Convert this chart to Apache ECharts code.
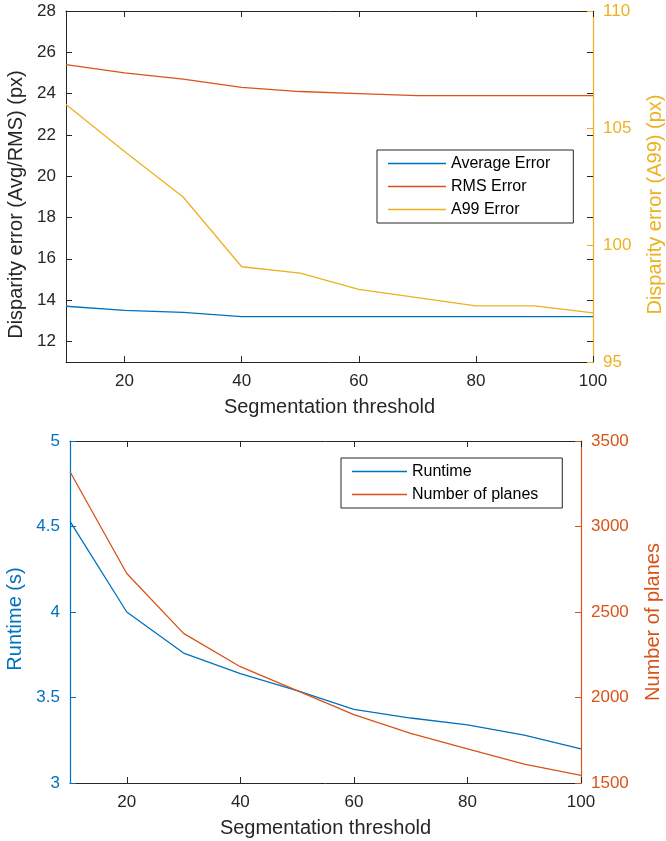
<!DOCTYPE html>
<html>
<head>
<meta charset="utf-8">
<script src="https://cdn.jsdelivr.net/npm/echarts@6/dist/echarts.min.js"></script>
<style>
html,body{margin:0;padding:0;background:#fff;}
#c{width:666px;height:841px;}
</style>
</head>
<body>
<div id="c"></div>
<script>
// ---- data ----
var thresholds = [10, 20, 30, 40, 50, 60, 70, 80, 90, 100];
var avgError = [13.7, 13.5, 13.4, 13.2, 13.2, 13.2, 13.2, 13.2, 13.2, 13.2];
var rmsError = [25.4, 25.0, 24.7, 24.3, 24.1, 24.0, 23.9, 23.9, 23.9, 23.9];
var a99Error = [106.0, 104.0, 102.05, 99.07, 98.8, 98.1, 97.75, 97.4, 97.4, 97.1];
var runtime = [4.53, 4.0, 3.76, 3.64, 3.54, 3.43, 3.38, 3.34, 3.28, 3.20];
var planes = [3320, 2725, 2375, 2180, 2040, 1900, 1790, 1700, 1610, 1545];

var xTickLabels = [20, 40, 60, 80, 100];
var errTicks = [12, 14, 16, 18, 20, 22, 24, 26, 28];

var seriesNamesTop = ['Average Error', 'RMS Error', 'A99 Error'];
var seriesNamesBottom = ['Runtime', 'Number of planes'];
var xTitle = 'Segmentation threshold';
var yTitles = ['Disparity error (Avg/RMS) (px)', 'Disparity error (A99) (px)', 'Runtime (s)', 'Number of planes'];

// ---- style ----
var FONT = 'Liberation Sans, Arial, Helvetica, sans-serif';
var DARK = '#262626';
var BLUE = '#0072BD', ORANGE = '#D95319', YELLOW = '#EDB120';

function pairs(ys) { return thresholds.map(function (x, i) { return [x, ys[i]]; }); }
function plain(v) { return String(v); }

function xAx(gridIndex, pos, withLabels) {
  return {
    type: 'value', gridIndex: gridIndex, position: pos, min: 10, max: 100,
    splitLine: {show: false},
    axisLine: {show: true, lineStyle: {color: DARK, width: 1}},
    axisTick: {show: true, inside: true, length: 6, lineStyle: {color: DARK}, customValues: xTickLabels},
    axisLabel: withLabels ? {show: true, customValues: xTickLabels, color: DARK, fontSize: 17, fontFamily: FONT, margin: 11, formatter: plain} : {show: false},
    name: withLabels ? xTitle : '', nameLocation: 'middle', nameGap: 35,
    nameTextStyle: {color: DARK, fontSize: 20, fontFamily: FONT}
  };
}

var option = {
  backgroundColor: '#fff',
  animation: false,
  grid: [
    {left: 66, top: 11, width: 527, height: 351, containLabel: false, outerBoundsMode: 'none'},
    {left: 70, top: 441, width: 511, height: 342, containLabel: false, outerBoundsMode: 'none'}
  ],
  legend: [
    {
      data: seriesNamesTop, orient: 'vertical', left: 377, top: 150,
      icon: 'rect', itemWidth: 58, itemHeight: 1.5, itemGap: 0,
      padding: [2, 23, 2, 11],
      backgroundColor: '#fff', borderColor: DARK, borderWidth: 1,
      textStyle: {color: '#000', fontSize: 16, fontFamily: FONT, lineHeight: 23, height: 23}
    },
    {
      data: seriesNamesBottom, orient: 'vertical', left: 341, top: 458,
      icon: 'rect', itemWidth: 55, itemHeight: 1.5, itemGap: 0,
      padding: [2, 24, 2, 11],
      backgroundColor: '#fff', borderColor: DARK, borderWidth: 1,
      textStyle: {color: '#000', fontSize: 16, fontFamily: FONT, lineHeight: 23, height: 23}
    }
  ],
  xAxis: [
    xAx(0, 'bottom', true),
    xAx(0, 'top', false),
    xAx(1, 'bottom', true),
    xAx(1, 'top', false)
  ],
  yAxis: [
    { // 0 top left
      type: 'value', gridIndex: 0, position: 'left', min: 11, max: 28,
      splitLine: {show: false},
      axisLine: {show: true, lineStyle: {color: DARK, width: 1}},
      axisTick: {show: true, inside: true, length: 6, lineStyle: {color: DARK}, customValues: errTicks},
      axisLabel: {show: true, customValues: errTicks, color: DARK, fontSize: 17, fontFamily: FONT, margin: 10, formatter: plain},
      name: yTitles[0], nameLocation: 'middle', nameGap: 39,
      nameTextStyle: {color: DARK, fontSize: 20, fontFamily: FONT, padding: [0, 36, 0, 0]}
    },
    { // 1 top right mirrored black ticks
      type: 'value', gridIndex: 0, position: 'right', min: 11, max: 28,
      splitLine: {show: false},
      axisLine: {show: false},
      axisTick: {show: true, inside: true, length: 6, lineStyle: {color: DARK}, customValues: errTicks},
      axisLabel: {show: false}
    },
    { // 2 top right A99
      type: 'value', gridIndex: 0, position: 'right', min: 95, max: 110, interval: 5,
      splitLine: {show: false},
      axisLine: {show: true, lineStyle: {color: YELLOW, width: 1.2}},
      axisTick: {show: true, inside: true, length: 6, lineStyle: {color: YELLOW}},
      axisLabel: {show: true, color: YELLOW, fontSize: 17, fontFamily: FONT, margin: 10, formatter: plain},
      name: yTitles[1], nameLocation: 'middle', nameGap: 52,
      nameTextStyle: {color: YELLOW, fontSize: 20, fontFamily: FONT, padding: [0, 36, 0, 0]}
    },
    { // 3 bottom left runtime
      type: 'value', gridIndex: 1, position: 'left', min: 3, max: 5, interval: 0.5,
      splitLine: {show: false},
      axisLine: {show: true, lineStyle: {color: BLUE, width: 1.2}},
      axisTick: {show: true, inside: true, length: 6, lineStyle: {color: BLUE}},
      axisLabel: {show: true, color: BLUE, fontSize: 17, fontFamily: FONT, margin: 10, formatter: plain},
      name: yTitles[2], nameLocation: 'middle', nameGap: 44,
      nameTextStyle: {color: BLUE, fontSize: 20, fontFamily: FONT, padding: [0, 14, 0, 0]}
    },
    { // 4 bottom right planes
      type: 'value', gridIndex: 1, position: 'right', min: 1500, max: 3500, interval: 500,
      splitLine: {show: false},
      axisLine: {show: true, lineStyle: {color: ORANGE, width: 1.2}},
      axisTick: {show: true, inside: true, length: 6, lineStyle: {color: ORANGE}},
      axisLabel: {show: true, color: ORANGE, fontSize: 17, fontFamily: FONT, margin: 10, formatter: plain},
      name: yTitles[3], nameLocation: 'middle', nameGap: 62,
      nameTextStyle: {color: ORANGE, fontSize: 20, fontFamily: FONT, padding: [0, 20, 0, 0]}
    }
  ],
  series: [
    {name: seriesNamesTop[0], type: 'line', xAxisIndex: 0, yAxisIndex: 0, data: pairs(avgError),
     symbol: 'none', color: BLUE, lineStyle: {width: 1.3, color: BLUE}},
    {name: seriesNamesTop[1], type: 'line', xAxisIndex: 0, yAxisIndex: 0, data: pairs(rmsError),
     symbol: 'none', color: ORANGE, lineStyle: {width: 1.3, color: ORANGE}},
    {name: seriesNamesTop[2], type: 'line', xAxisIndex: 0, yAxisIndex: 2, data: pairs(a99Error),
     symbol: 'none', color: YELLOW, lineStyle: {width: 1.3, color: YELLOW}},
    {name: seriesNamesBottom[0], type: 'line', xAxisIndex: 2, yAxisIndex: 3, data: pairs(runtime),
     symbol: 'none', color: BLUE, lineStyle: {width: 1.3, color: BLUE}},
    {name: seriesNamesBottom[1], type: 'line', xAxisIndex: 2, yAxisIndex: 4, data: pairs(planes),
     symbol: 'none', color: ORANGE, lineStyle: {width: 1.3, color: ORANGE}}
  ]
};

var chart = echarts.init(document.getElementById('c'), null, {renderer: 'canvas'});
chart.setOption(option);
</script>
</body>
</html>
